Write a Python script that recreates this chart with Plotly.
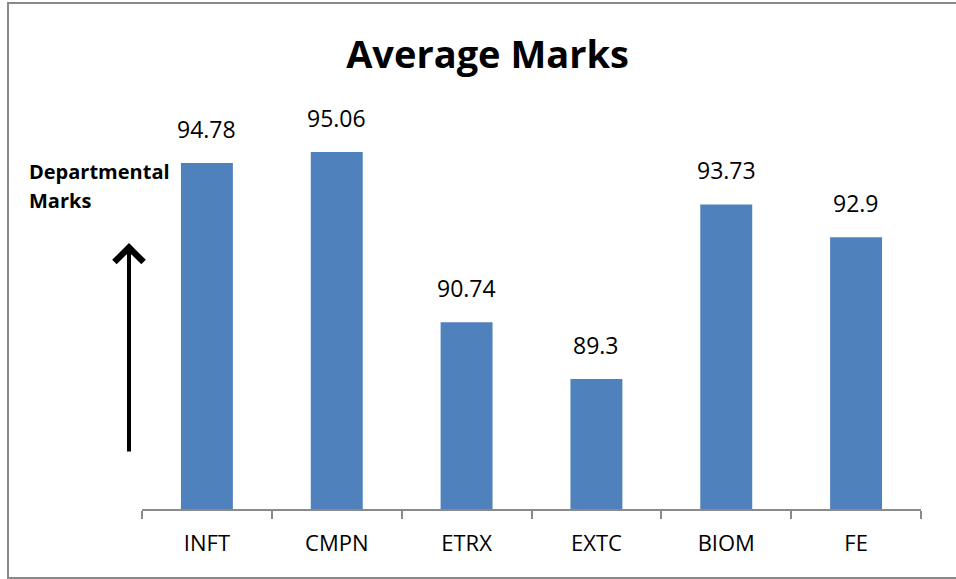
import plotly.graph_objects as go

departments = ["INFT", "CMPN", "ETRX", "EXTC", "BIOM", "FE"]
avg_marks = [94.78, 95.06, 90.74, 89.3, 93.73, 92.9]
y_range = [86, 96]

FONT = "Open Sans"
BAR_COLOR = "#4F81BD"

fig = go.Figure()

fig.add_trace(go.Bar(
    x=departments,
    y=avg_marks,
    marker=dict(color=BAR_COLOR, line=dict(width=0)),
    hovertemplate="%{x}: %{y}<extra></extra>",
))

# value labels sitting above each bar
for dept, val in zip(departments, avg_marks):
    fig.add_annotation(
        x=dept, y=val, text=f"{val:g}",
        showarrow=False, yanchor="bottom", yshift=16,
        font=dict(family=FONT, size=23, color="black"),
    )

# side label and arrow
fig.add_annotation(
    xref="paper", yref="paper", x=-0.148, y=0.856,
    text="<b>Departmental</b>", showarrow=False,
    xanchor="left", yanchor="middle",
    font=dict(family=FONT, size=20, color="black"),
)
fig.add_annotation(
    xref="paper", yref="paper", x=-0.148, y=0.782,
    text="<b>Marks</b>", showarrow=False,
    xanchor="left", yanchor="middle",
    font=dict(family=FONT, size=20, color="black"),
)
fig.add_annotation(
    xref="paper", yref="paper", x=-0.0167, y=0.675,
    text="", showarrow=True, ax=0, ay=210,
    arrowhead=4, arrowsize=1.4, arrowwidth=4, arrowcolor="black",
)

# outer chart border (right side runs off the picture)
fig.add_shape(
    type="rect", xref="paper", yref="paper",
    x0=-0.172, x1=1.25, y0=-0.175, y1=1.284,
    line=dict(color="#8a8a8a", width=2), fillcolor="rgba(0,0,0,0)",
    layer="below",
)

fig.update_layout(
    width=956,
    height=579,
    margin=dict(l=142, r=35, t=115, b=70),
    paper_bgcolor="white",
    plot_bgcolor="white",
    bargap=0.6,
    showlegend=False,
    title=dict(
        text="<b>Average Marks</b>",
        xref="container", yref="container",
        x=0.51, y=0.905, xanchor="center", yanchor="middle",
        font=dict(family=FONT, size=38, color="black"),
    ),
    xaxis=dict(
        showline=True, linecolor="#8a8a8a", linewidth=2,
        ticks="outside", tickson="boundaries", ticklen=8,
        tickcolor="#8a8a8a", tickwidth=2,
        ticklabelstandoff=14,
        tickfont=dict(family=FONT, size=22, color="black"),
        showgrid=False, zeroline=False,
    ),
    yaxis=dict(range=y_range, visible=False, showgrid=False),
)

# drop the default page margin so the figure sits at the window origin
fig.write_html(
    "out.html",
    config={"displayModeBar": False},
    post_script="document.body.style.margin='0';",
)
